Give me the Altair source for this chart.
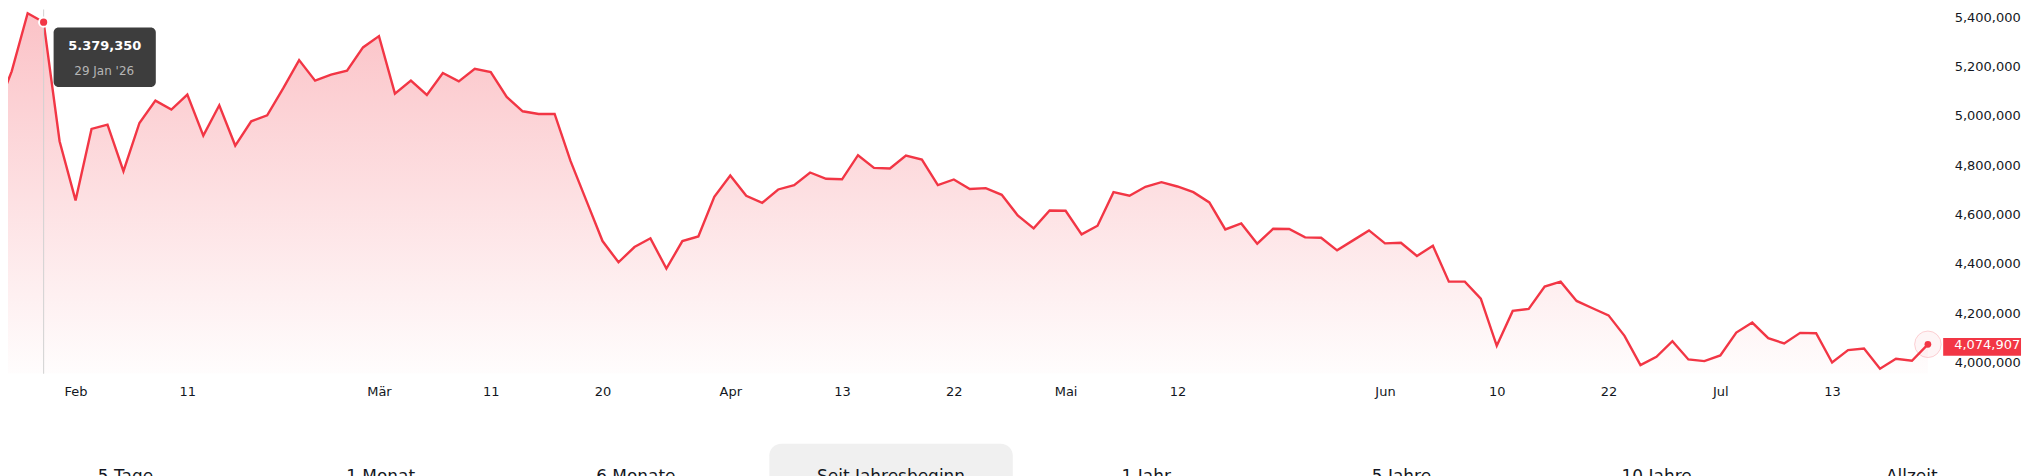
import json
import altair as alt
import pandas as pd

# ---------------- data ----------------
HOLIDAYS = ["2026-02-16", "2026-04-03", "2026-05-25", "2026-06-19", "2026-07-03"]
TRADING_DAYS = [d.strftime("%Y-%m-%d") for d in pd.bdate_range("2026-01-26", "2026-07-21")
                if d.strftime("%Y-%m-%d") not in HOLIDAYS]

JAN = [5014000, 5180000, 5415600, 5379350, 4897100]
FEB = [4657500, 4946900, 4964500, 4775900, 4971100, 5061500, 5025000, 5085600, 4920000, 5042600,
       4879600, 4977900, 5002200, 5111000, 5225700, 5142300, 5166500, 5182600, 5277000]
MAR = [5322700, 5089700, 5142300, 5084300, 5173300, 5139600, 5190700, 5177300, 5076300, 5018300,
       5007500, 5007500, 4816300, 4654600, 4493000, 4406800, 4468800, 4504000, 4381200, 4493000,
       4511800, 4672200]
APR = [4758300, 4676200, 4647900, 4701800, 4719300, 4770500, 4745000, 4743000, 4840500, 4789300,
       4786600, 4839200, 4823000, 4719300, 4742200, 4704000, 4707200, 4680300, 4596700, 4544200,
       4616900]
MAY = [4615600, 4519900, 4555000, 4691000, 4676200, 4712600, 4731400, 4713900, 4691000, 4649200,
       4540100, 4564400, 4482200, 4542800, 4542000, 4507800, 4506500, 4455300, 4495700, 4536100]
JUN = [4483500, 4486200, 4432400, 4474200, 4328600, 4328600, 4260000, 4068700, 4210100, 4218200,
       4308500, 4328600, 4250500, 4220900, 4192000, 4109100, 3990600, 4024200, 4087500, 4013500,
       4006700]
JUL = [4029600, 4122600, 4163000, 4099600, 4078100, 4121200, 4119900, 4001300, 4051200, 4057900,
       3975800, 4016200, 4008100, 4074907]
VALUES = JAN + FEB + MAR + APR + MAY + JUN + JUL

TICK_DATES = ["2026-02-02", "2026-02-11", "2026-03-02", "2026-03-11", "2026-03-20", "2026-04-01",
              "2026-04-13", "2026-04-22", "2026-05-01", "2026-05-12", "2026-06-01", "2026-06-10",
              "2026-06-22", "2026-07-01", "2026-07-13"]
TICK_LABELS = ["Feb", "11", "Mär", "11", "20", "Apr", "13", "22", "Mai", "12", "Jun", "10", "22",
               "Jul", "13"]
Y_TICKS = [4000000, 4200000, 4400000, 4600000, 4800000, 5000000, 5200000, 5400000]

BUTTONS = ["5 Tage", "1 Monat", "6 Monate", "Seit Jahresbeginn", "1 Jahr", "5 Jahre", "10 Jahre",
           "Allzeit"]
ACTIVE_BUTTON = "Seit Jahresbeginn"

HOVER_DATE = "2026-01-29"
HOVER_VALUE_TEXT = "5.379,350"
HOVER_DATE_TEXT = "29 Jan '26"
LAST_VALUE_TEXT = "4,074,907"

# ---------------- layout / style ----------------
W, H = 1937, 365
X_DOMAIN = [0.769, 121.83]
Y_DOMAIN = [3955549, 5430514]
BTN_DOMAIN = [-0.4603, 7.115]
RED = "#F23645"
TEXT = "#131722"
FONT = "DejaVu Sans"

df = pd.DataFrame({"i": range(len(VALUES)), "date": TRADING_DAYS, "value": VALUES})
df["base"] = Y_DOMAIN[0]

tick_idx = [TRADING_DAYS.index(d) for d in TICK_DATES]
label_expr = (f"{json.dumps(TICK_LABELS, ensure_ascii=False)}"
              f"[indexof({json.dumps(tick_idx)}, datum.value)]")

x_enc = alt.X("i:Q", scale=alt.Scale(domain=X_DOMAIN, nice=False, zero=False),
              axis=alt.Axis(values=tick_idx, labelExpr=label_expr, title=None, ticks=False,
                            tickSize=0, domain=False, grid=False, labelPadding=18,
                            labelBaseline="middle", labelFlush=False, labelOverlap=False))
y_enc = alt.Y("value:Q", scale=alt.Scale(domain=Y_DOMAIN, nice=False, zero=False),
              axis=alt.Axis(orient="right", values=Y_TICKS, format=",.0f", title=None,
                            ticks=False, tickSize=0, domain=False, grid=False,
                            labelAlign="left", labelBaseline="middle", labelPadding=13,
                            labelFlush=False, labelOverlap=False))

gradient = alt.Gradient(
    gradient="linear",
    stops=[alt.GradientStop(color="rgba(242,54,69,0.30)", offset=0),
           alt.GradientStop(color="rgba(242,54,69,0.01)", offset=1)],
    x1=1, x2=1, y1=0, y2=1)

base = alt.Chart(df)
area = base.mark_area(clip=True, color=gradient).encode(x=x_enc, y=y_enc, y2="base:Q")
line = base.mark_line(clip=True, color=RED, strokeWidth=2.4).encode(x=x_enc, y=y_enc)

hover_df = df[df["date"] == HOVER_DATE]
hover = alt.Chart(hover_df)
rule = hover.mark_rule(color="#d2d2d2", strokeWidth=1).encode(x=x_enc)
hover_dot = hover.mark_circle(size=85, color=RED, opacity=1, stroke="white",
                              strokeWidth=2).encode(x=x_enc, y=y_enc)
tip_box = hover.mark_rect(color="#3d3d3d", cornerRadius=5, xOffset=10, x2Offset=112.4,
                          yOffset=5.3, y2Offset=65).encode(x=x_enc, x2="i:Q", y=y_enc,
                                                            y2="value:Q")
tip_val = hover.mark_text(text=HOVER_VALUE_TEXT, dx=61.2, dy=24.3, color="white",
                          fontWeight="bold", fontSize=13, font=FONT, align="center",
                          baseline="middle").encode(x=x_enc, y=y_enc)
tip_date = hover.mark_text(text=HOVER_DATE_TEXT, dx=60.7, dy=49, color="#b5b5b5",
                           fontSize=12, font=FONT, align="center",
                           baseline="middle").encode(x=x_enc, y=y_enc)

last = alt.Chart(df.iloc[[-1]])
halo = last.mark_circle(size=707, fill=RED, fillOpacity=0.05, stroke=RED, strokeOpacity=0.22,
                        strokeWidth=1, opacity=1).encode(x=x_enc, y=y_enc)
last_dot = last.mark_circle(size=45, color=RED, opacity=1).encode(x=x_enc, y=y_enc)
last_box = last.mark_rect(color=RED, xOffset=15.3, x2Offset=93.3, yOffset=-6.2,
                          y2Offset=11.5).encode(x=x_enc, x2="i:Q", y=y_enc, y2="value:Q")
last_txt = last.mark_text(text=LAST_VALUE_TEXT, dx=26.3, dy=1.2, color="white", fontSize=13,
                          font=FONT, align="left", baseline="middle").encode(x=x_enc, y=y_enc)

main = alt.layer(area, line, rule, hover_dot, tip_box, tip_val, tip_date, halo, last_dot,
                 last_box, last_txt)

btn_df = pd.DataFrame({"b": range(len(BUTTONS)), "label": BUTTONS})
btn_df["x0"] = btn_df["b"] - 0.477
btn_df["x1"] = btn_df["b"] + 0.477
bscale = alt.Scale(domain=BTN_DOMAIN, nice=False, zero=False)
active_box = alt.Chart(btn_df[btn_df["label"] == ACTIVE_BUTTON]).mark_rect(
    color="#f0f0f0", cornerRadius=12).encode(
    x=alt.X("x0:Q", scale=bscale, axis=None), x2="x1:Q", y=alt.value(435), y2=alt.value(500))
btn_text = alt.Chart(btn_df).mark_text(fontSize=17, color=TEXT, font=FONT,
                                       baseline="alphabetic", align="center").encode(
    x=alt.X("b:Q", scale=bscale, axis=None), y=alt.value(473), text="label:N")
buttons = alt.layer(active_box, btn_text)

chart = (alt.layer(main, buttons)
         .resolve_scale(x="independent")
         .properties(width=W, height=H, padding=0, background="white")
         .configure_view(stroke=None)
         .configure_axis(labelFont=FONT, labelFontSize=13, labelColor=TEXT))

chart.save("out.html", embed_options={"renderer": "svg", "actions": False})
